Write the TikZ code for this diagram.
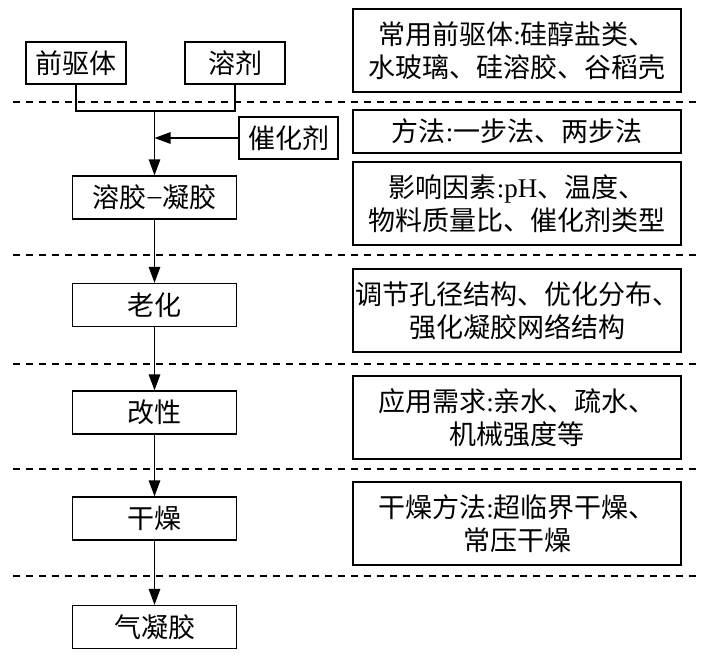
\documentclass[tikz,border=0pt]{standalone}
\usepackage{fontspec}
\setmainfont{Noto Sans CJK SC}
\newfontfamily\latfont{Liberation Serif}
\newcommand\LatT[1]{{\latfont #1}}
\usetikzlibrary{arrows.meta}
\tikzset{
  box/.style={draw, line width=1.3pt, inner sep=0pt, align=center, font=\fontsize{27}{33}\selectfont},
  lbox/.style={box, minimum width=164pt, minimum height=43pt},
  rbox/.style={box, minimum width=328pt},
  conn/.style={line width=1.3pt},
  arr/.style={conn, -{Triangle[length=16pt,width=11.5pt]}},
  sep/.style={line width=1.3pt, dash pattern=on 7pt off 6pt},
}
\begin{document}
\begin{tikzpicture}[x=1pt,y=-1pt]
\useasboundingbox (0,0) rectangle (719,657);
% dashed separators
\draw[sep] (13,102) -- (702,102);
\draw[sep] (13,255) -- (702,255);
\draw[sep] (13,364) -- (702,364);
\draw[sep] (13,469) -- (702,469);
\draw[sep] (13,576) -- (702,576);
% left column
\node[box, minimum width=100pt, minimum height=42pt] (pre) at (76,63) {前驱体};
\node[box, minimum width=100pt, minimum height=42pt] (sol) at (235,63) {溶剂};
\node[box, minimum width=99pt, minimum height=42pt] (cat) at (288.5,138) {催化剂};
\node[lbox] (sg) at (154.5,197.5) {溶胶\hspace{1.5pt}\raisebox{3pt}{\LatT{–}}\hspace{1.5pt}凝胶};
\node[lbox] (age) at (154.5,305) {老化};
\node[lbox] (mod) at (154.5,412.5) {改性};
\node[lbox] (dry) at (154.5,518.5) {干燥};
\node[lbox] (aero) at (154.5,627) {气凝胶};
\coordinate (jn) at (154.5,111);
\draw[conn] (pre.south) |- (jn) -| (sol.south);
\draw[arr] (jn) -- (sg.north);
\draw[arr] (cat.west) -- (cat.west -| jn);
\draw[arr] (sg) -- (age);
\draw[arr] (age) -- (mod);
\draw[arr] (mod) -- (dry);
\draw[arr] (dry) -- (aero);
% right column
\node[rbox, minimum height=83pt] (r1) at (517,50.5) {常用前驱体\LatT{:}硅醇盐类、\\水玻璃、硅溶胶、谷稻壳};
\node[rbox, minimum height=43pt] (r2) at (517,131.5) {方法\LatT{:}一步法、两步法};
\node[rbox, minimum height=83pt] (r3) at (517,203.5) {影响因素\LatT{:pH}、温度、\\物料质量比、催化剂类型};
\node[rbox, minimum height=83pt] (r4) at (517,310.5) {调节孔径结构、优化分布、\\强化凝胶网络结构};
\node[rbox, minimum height=83pt] (r5) at (517,417.5) {应用需求\LatT{:}亲水、疏水、\\机械强度等};
\node[rbox, minimum height=83pt] (r6) at (517,523.5) {干燥方法\LatT{:}超临界干燥、\\常压干燥};
\end{tikzpicture}
\end{document}
